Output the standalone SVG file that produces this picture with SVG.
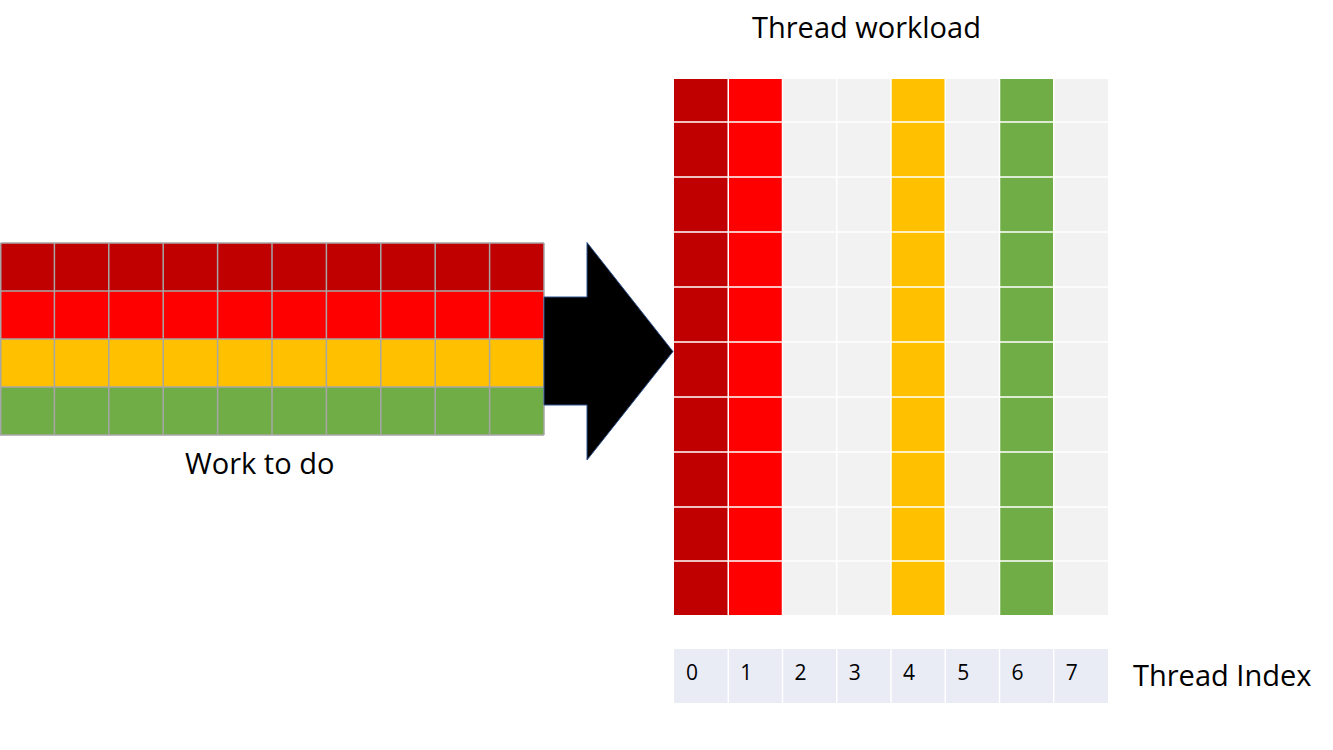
<svg xmlns="http://www.w3.org/2000/svg" width="1333" height="750" viewBox="0 0 1333 750">
<style>
.lbl{font-family:"Open Sans","Noto Sans","DejaVu Sans",sans-serif;fill:#000}
.dr{fill:#C00000}.rd{fill:#FF0000}.am{fill:#FFC000}.gr{fill:#70AD47}.lg{fill:#F2F2F2}.ix{fill:#E9EBF5}
.gl{stroke:#A6A6A6;stroke-width:1.5;fill:none}
.wl{stroke:#FFFFFF;stroke-width:1.5;fill:none}
</style>
<rect width="1333" height="750" fill="#FFFFFF"/>
<g id="work-to-do">
<rect class="dr" x="0" y="243" width="544" height="48"/>
<rect class="rd" x="0" y="291" width="544" height="48"/>
<rect class="am" x="0" y="339" width="544" height="48"/>
<rect class="gr" x="0" y="387" width="544" height="48"/>
<path class="gl" d="M0.75,243H544M0,291H544M0,339H544M0,387H544M0,435H544M0.75,243V435M54.4,243V435M108.8,243V435M163.2,243V435M217.6,243V435M272,243V435M326.4,243V435M380.8,243V435M435.2,243V435M489.6,243V435M544,243V435"/>
<text class="lbl" x="185" y="474" font-size="29">Work to do</text>
</g>
<g id="connectors">
<polygon points="544,297 587,297 587,242.5 673,351.5 587,460 587,405 544,405" fill="#000000" stroke="#2F528F" stroke-width="1"/>
</g>
<g id="thread-workload">
<text class="lbl" x="752" y="38" font-size="29">Thread workload</text>
<rect class="dr" x="674" y="79" width="54.25" height="536"/>
<rect class="rd" x="728.25" y="79" width="54.25" height="536"/>
<rect class="lg" x="782.5" y="79" width="108.5" height="536"/>
<rect class="am" x="891" y="79" width="54.25" height="536"/>
<rect class="lg" x="945.25" y="79" width="54.25" height="536"/>
<rect class="gr" x="999.5" y="79" width="54.25" height="536"/>
<rect class="lg" x="1053.75" y="79" width="54.25" height="536"/>
<path class="wl" d="M674,122H1108M674,177H1108M674,232H1108M674,287H1108M674,342H1108M674,397H1108M674,452H1108M674,507H1108M674,561H1108M728.25,79V615M782.5,79V615M836.75,79V615M891,79V615M945.25,79V615M999.5,79V615M1053.75,79V615"/>
</g>
<g id="thread-index">
<rect class="ix" x="674" y="649" width="434" height="54"/>
<path class="wl" d="M728.25,649V703M782.5,649V703M836.75,649V703M891,649V703M945.25,649V703M999.5,649V703M1053.75,649V703"/>
<g class="lbl" font-size="21">
<text x="686" y="680">0</text>
<text x="740.25" y="680">1</text>
<text x="794.5" y="680">2</text>
<text x="848.75" y="680">3</text>
<text x="903" y="680">4</text>
<text x="957.25" y="680">5</text>
<text x="1011.5" y="680">6</text>
<text x="1065.75" y="680">7</text>
</g>
<text class="lbl" x="1133" y="686" font-size="29">Thread Index</text>
</g>
</svg>
